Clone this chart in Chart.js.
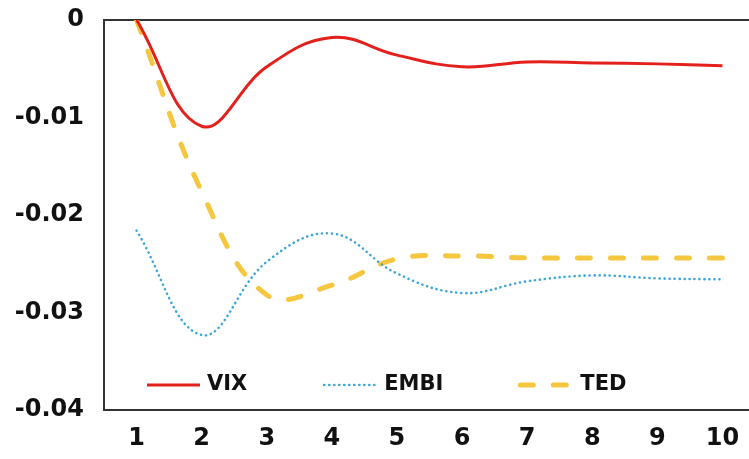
<!DOCTYPE html>
<html>
<head>
<meta charset="utf-8">
<script src="https://cdn.jsdelivr.net/npm/chart.js@4/dist/chart.umd.min.js"></script>
<style>
  html, body { margin: 0; padding: 0; background: #fff; overflow: hidden; }
  #wrap { width: 755px; height: 459px; }
</style>
</head>
<body>
<div id="wrap"><canvas id="chart"></canvas></div>
<script>
// horizon (periods) on the x axis
var periods = ["1", "2", "3", "4", "5", "6", "7", "8", "9", "10"];
// impulse responses
var vix  = [0, -0.0109, -0.0048, -0.0018, -0.0036, -0.0048, -0.0043, -0.0044, -0.0045, -0.0047];
var embi = [-0.0216, -0.0323, -0.0248, -0.0219, -0.0260, -0.0280, -0.0268, -0.0262, -0.0265, -0.0266];
var ted  = [0, -0.0176, -0.0282, -0.0272, -0.0245, -0.0242, -0.0244, -0.0244, -0.0244, -0.0244];
var yTicks = [0, -0.01, -0.02, -0.03, -0.04];

var axisColor = "#333";
var textColor = "#111";
var fontFamily = "'DejaVu Sans', sans-serif";

// legend drawn inside the plot, along the bottom
var insideLegend = {
    id: "insideLegend",
    afterDraw: function(chart) {
        var ctx = chart.ctx;
        var area = chart.chartArea;
        var x = area.left + 43;
        var y = area.bottom - 25;
        ctx.save();
        ctx.font = "bold 21px " + fontFamily;
        ctx.textBaseline = "middle";
        chart.data.datasets.forEach(function(ds) {
            ctx.beginPath();
            ctx.strokeStyle = ds.borderColor;
            ctx.lineWidth = ds.borderWidth;
            ctx.lineCap = ds.borderCapStyle || "butt";
            ctx.setLineDash(ds.borderDash || []);
            ctx.moveTo(x, y);
            ctx.lineTo(x + 53, y);
            ctx.stroke();
            ctx.setLineDash([]);
            ctx.fillStyle = textColor;
            ctx.fillText(ds.label, x + 60, y);
            x += 60 + ctx.measureText(ds.label).width + 77;
        });
        ctx.restore();
    }
};

new Chart(document.getElementById("chart"), {
    type: "line",
    data: {
        labels: periods,
        datasets: [{
            label: "VIX",
            data: vix,
            borderColor: "#e3201c",
            borderWidth: 3,
            pointRadius: 0,
            tension: 0.4,
            fill: false
        }, {
            label: "EMBI",
            data: embi,
            borderColor: "#3ea6d8",
            borderWidth: 2.6,
            borderDash: [0.1, 4.9],
            borderCapStyle: "round",
            pointRadius: 0,
            tension: 0.4,
            fill: false
        }, {
            label: "TED",
            data: ted,
            borderColor: "#f5c73f",
            borderWidth: 5,
            borderDash: [13, 20],
            borderCapStyle: "round",
            pointRadius: 0,
            tension: 0.4,
            fill: false
        }]
    },
    options: {
        responsive: true,
        maintainAspectRatio: false,
        animation: false,
        layout: { padding: 0 },
        plugins: {
            legend: { display: false },
            tooltip: { enabled: false }
        },
        scales: {
            x: {
                offset: true,
                grid: { display: false, drawTicks: false },
                border: { display: true, color: axisColor, width: 2 },
                ticks: {
                    color: textColor,
                    padding: 14,
                    maxRotation: 0,
                    font: { family: fontFamily, size: 24, weight: "bold" }
                },
                afterFit: function(scale) { scale.height = 49; }
            },
            y: {
                min: yTicks[yTicks.length - 1],
                max: yTicks[0],
                afterBuildTicks: function(scale) {
                    scale.ticks = yTicks.map(function(v) { return { value: v }; });
                },
                grid: {
                    drawTicks: false,
                    lineWidth: 2,
                    color: function(c) { return c.tick && c.tick.value === 0 ? axisColor : "rgba(0,0,0,0)"; }
                },
                border: { display: true, color: axisColor, width: 2 },
                ticks: {
                    color: textColor,
                    padding: 20,
                    font: { family: fontFamily, size: 24, weight: "bold" },
                    callback: function(v) { return v === 0 ? "0" : v.toFixed(2); }
                },
                afterFit: function(scale) {
                    scale.width = 104;
                    scale.paddingTop = 20;
                    scale.paddingBottom = 0;
                }
            }
        }
    },
    plugins: [insideLegend]
});
</script>
</body>
</html>
